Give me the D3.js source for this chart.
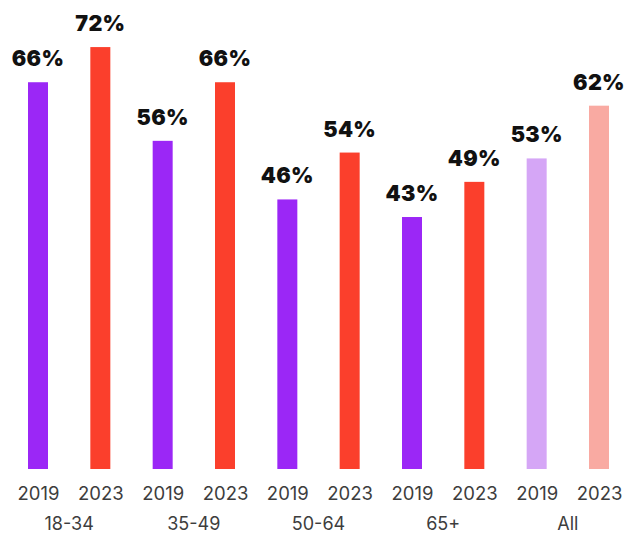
<!DOCTYPE html>
<html>
<head>
<meta charset="utf-8">
<script src="https://cdn.jsdelivr.net/npm/d3@7"></script>
<style>
  html, body { margin: 0; padding: 0; background: #ffffff; }
  svg { display: block; }
</style>
</head>
<body>
<svg id="chart" width="626" height="533"></svg>
<script>
// Share by age group, 2019 vs 2023
const groups = ["18-34", "35-49", "50-64", "65+", "All"];
const years = ["2019", "2023"];
const values2019 = [66, 56, 46, 43, 53];
const values2023 = [72, 66, 54, 49, 62];

const colors = {
  "2019": "#9b27f6",
  "2023": "#fb3f2c",
  "All-2019": "#d5a6f6",
  "All-2023": "#f9aaa2"
};

const rows = [];
groups.forEach((g, i) => {
  rows.push({ group: g, year: "2019", value: values2019[i] });
  rows.push({ group: g, year: "2023", value: values2023[i] });
});
rows.forEach(d => { d.key = d.group + "|" + d.year; });

const svg = d3.select("#chart");
const baseY = 469;
const barW = 20;

const x = d3.scalePoint()
  .domain(rows.map(d => d.key))
  .range([38, 599]);

const y = d3.scaleLinear()
  .domain([0, 100])
  .range([baseY, baseY - 586]);

function fill(d) {
  if (d.group === "All") return colors["All-" + d.year];
  return colors[d.year];
}

// bars
svg.append("g").selectAll("rect")
  .data(rows)
  .join("rect")
  .attr("x", d => x(d.key) - barW / 2)
  .attr("y", d => y(d.value))
  .attr("width", barW)
  .attr("height", d => y(0) - y(d.value))
  .attr("fill", fill);

// value labels
svg.append("g").selectAll("text")
  .data(rows)
  .join("text")
  .attr("x", d => x(d.key))
  .attr("y", d => y(d.value) - 16)
  .attr("text-anchor", "middle")
  .attr("font-family", "Inter, 'DejaVu Sans', sans-serif")
  .attr("font-weight", 900)
  .attr("font-size", 21.5)
  .attr("letter-spacing", 0.3)
  .attr("fill", "#111111")
  .text(d => d.value + "%");

// year axis
const yearAxis = d3.axisBottom(x)
  .tickSize(0)
  .tickPadding(0)
  .tickFormat(k => k.split("|")[1]);

const ax = svg.append("g")
  .attr("transform", `translate(0, ${baseY + 31})`)
  .call(yearAxis);
ax.select(".domain").remove();
ax.selectAll("text")
  .attr("dy", 0)
  .attr("font-family", "Inter, 'DejaVu Sans', sans-serif")
  .attr("font-size", 18.5)
  .attr("font-weight", 400)
  .attr("fill", "#3d3d3d");

// group labels centred under each pair
svg.append("g").selectAll("text")
  .data(groups)
  .join("text")
  .attr("x", g => (x(g + "|2019") + x(g + "|2023")) / 2)
  .attr("y", baseY + 61)
  .attr("text-anchor", "middle")
  .attr("font-family", "Inter, 'DejaVu Sans', sans-serif")
  .attr("font-size", 18)
  .attr("fill", "#3d3d3d")
  .text(g => g);
</script>
</body>
</html>
